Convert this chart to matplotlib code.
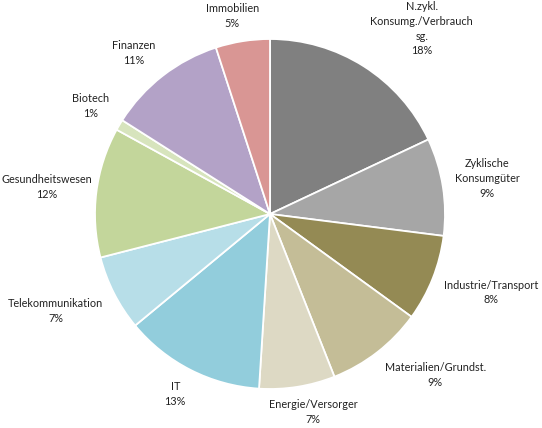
import numpy as np
import matplotlib.pyplot as plt

plt.rcParams['font.family'] = ['Lato', 'DejaVu Sans']

sectors = ['N.zykl.\nKonsumg./Verbrauch\nsg.', 'Zyklische\nKonsumgüter',
           'Industrie/Transport', 'Materialien/Grundst.', 'Energie/Versorger',
           'IT', 'Telekommunikation', 'Gesundheitswesen', 'Biotech',
           'Finanzen', 'Immobilien']
shares = [18, 9, 8, 9, 7, 13, 7, 12, 1, 11, 5]
colors = ['#808080', '#a6a6a6', '#948a54', '#c4bd97', '#ddd9c4', '#92cddc',
          '#b7dee8', '#c3d69b', '#d7e4bd', '#b3a2c7', '#d99694']

W, H = 542, 428
fig = plt.figure(figsize=(W / 100, H / 100), dpi=100)
ax = fig.add_axes([0, 0, 1, 1])

cx, cy, r = 270, 214, 175
ax.pie(shares, colors=colors, startangle=90, counterclock=False,
       center=(cx, cy), radius=r,
       wedgeprops=dict(edgecolor='white', linewidth=1.3))
ax.set_xlim(0, W)
ax.set_ylim(0, H)
ax.set_aspect('equal')
ax.axis('off')

# Excel-like "outside end" labels, kept inside the figure
fig.canvas.draw()
renderer = fig.canvas.get_renderer()
total = sum(shares)
start = np.cumsum([0] + shares[:-1])
for name, s, c0 in zip(sectors, shares, start):
    theta = np.deg2rad((c0 + s / 2) / total * 360)
    dx, dy = np.sin(theta), np.cos(theta)
    t = ax.text(0, 0, f'{name}\n{s}%', ha='center', va='center',
                fontsize=7.8, color='#222222', linespacing=1.42)
    bb = t.get_window_extent(renderer)
    hw, hh = bb.width / 2, bb.height / 2
    fx = np.clip(2 * dx, -1, 1)
    fy = np.clip(2 * dy, -1, 1)
    ra = r * 1.07
    x = cx + ra * dx + fx * hw
    y = cy + ra * dy + fy * hh
    x = min(max(x, hw + 1), W - hw - 1)
    y = min(max(y, hh + 1), H - hh - 1)
    t.set_position((x, y))

fig.savefig('out.png', dpi=100)
